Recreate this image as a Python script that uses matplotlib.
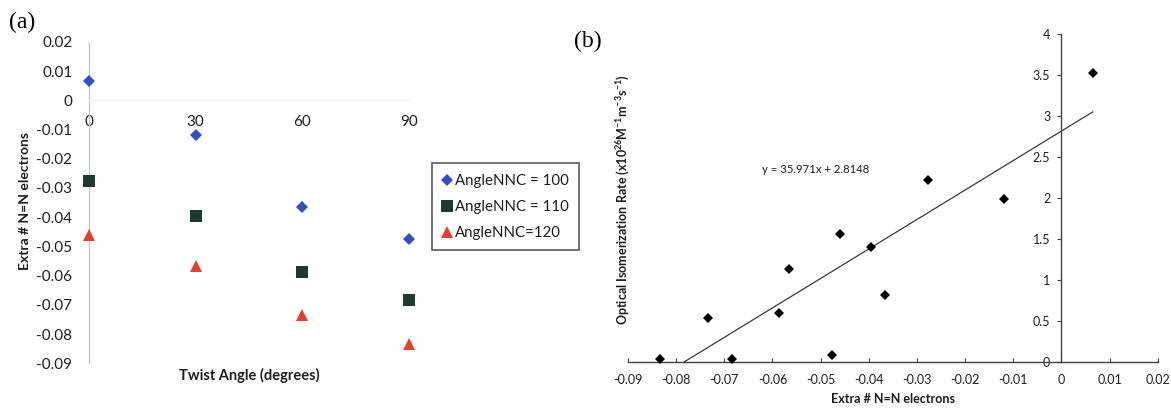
import numpy as np
import matplotlib
matplotlib.use("Agg")
import matplotlib.pyplot as plt
from matplotlib.ticker import FuncFormatter, MultipleLocator

plt.rcParams["font.family"] = ["Lato", "DejaVu Sans"]
plt.rcParams["axes.unicode_minus"] = False
plt.rcParams["mathtext.fontset"] = "custom"
plt.rcParams["mathtext.rm"] = "Lato:bold"
plt.rcParams["mathtext.it"] = "Lato:bold"
plt.rcParams["mathtext.bf"] = "Lato:bold"

# Twist angle scan: extra N=N electron count for three NNC bond angles
twist_angles = [0, 30, 60, 90]
extra_e_nnc100 = [0.0065, -0.0120, -0.0366, -0.0476]
extra_e_nnc110 = [-0.0277, -0.0396, -0.0586, -0.0683]
extra_e_nnc120 = [-0.0460, -0.0566, -0.0734, -0.0833]
series_labels = ["AngleNNC = 100", "AngleNNC = 110", "AngleNNC=120"]

# Optical isomerization rate for the same twelve geometries (x10^26 M^-1 m^-3 s^-1)
rate_nnc100 = [3.53, 1.99, 0.82, 0.08]
rate_nnc110 = [2.22, 1.40, 0.59, 0.03]
rate_nnc120 = [1.56, 1.13, 0.53, 0.03]

# Linear trendline
fit_slope = 35.971
fit_intercept = 2.8148


def num_fmt(v, _pos=None):
    v = round(v, 4)
    if abs(v) < 1e-12:
        return "0"
    return f"{v:g}"


W, H = 1171, 408
fig = plt.figure(figsize=(W / 100, H / 100), dpi=100)

# ---------------- panel (a) ----------------
ax1 = fig.add_axes([89 / W, (H - 363.3) / H, 320 / W, 321.5 / H])
ax1.set_xlim(0, 90)
ax1.set_ylim(-0.09, 0.02)

styles = [
    dict(marker="D", color="#3050c4", ms=6.2),
    dict(marker="s", color="#1d3b2c", ms=8.4),
    dict(marker="^", color="#e6402a", ms=8.6),
]
handles = []
for vals, lab, st in zip([extra_e_nnc100, extra_e_nnc110, extra_e_nnc120], series_labels, styles):
    h, = ax1.plot(twist_angles, vals, linestyle="none", marker=st["marker"],
                  color=st["color"], markersize=st["ms"], markeredgewidth=0,
                  clip_on=False, label=lab, zorder=3)
    handles.append(h)

for s in ["top", "right"]:
    ax1.spines[s].set_visible(False)
ax1.spines["bottom"].set_position(("data", 0))
ax1.spines["bottom"].set_color("#eeeeee")
ax1.spines["bottom"].set_linewidth(0.8)
ax1.spines["left"].set_color("#b4c6de")
ax1.spines["left"].set_linewidth(0.9)

ax1.set_xticks(twist_angles)
ax1.yaxis.set_major_locator(MultipleLocator(0.01))
ax1.yaxis.set_major_formatter(FuncFormatter(num_fmt))
ax1.tick_params(axis="both", length=0, labelsize=11, colors="#1e1e1e")
ax1.tick_params(axis="y", pad=12)
ax1.tick_params(axis="x", pad=10.5)

ax1.set_xlabel("Twist Angle (degrees)", fontsize=10.5, fontweight="bold", color="#1e1e1e")
ax1.xaxis.set_label_coords(0.5, -0.014)
ax1.set_ylabel("Extra # N=N electrons", fontsize=10, fontweight="bold", color="#1e1e1e")
ax1.yaxis.label.set_va("center")
ax1.yaxis.set_label_coords(-0.2, 0.505)

leg = fig.legend(handles=handles, loc="upper left",
                 bbox_to_anchor=(431.7 / W, 1 - 163.3 / H), bbox_transform=fig.transFigure,
                 borderaxespad=0, fontsize=10.8, frameon=True, fancybox=False,
                 handlelength=0.7, handletextpad=0.15, labelspacing=0.8,
                 borderpad=0.7, markerscale=1.0)
leg.get_frame().set_edgecolor("#444444")
leg.get_frame().set_linewidth(1.3)
for t in leg.get_texts():
    t.set_color("#1e1e1e")

fig.text(22 / W, 1 - 22 / H, "(a)", family="Liberation Serif", fontsize=17,
         ha="center", va="center")

# ---------------- panel (b) ----------------
ax2 = fig.add_axes([628 / W, (H - 361.7) / H, 529.7 / W, 327.7 / H])
ax2.set_xlim(-0.09, 0.02)
ax2.set_ylim(0, 4)

bx = np.array(extra_e_nnc100 + extra_e_nnc110 + extra_e_nnc120)
by = np.array(rate_nnc100 + rate_nnc110 + rate_nnc120)

fit_x = np.array([bx.min(), bx.max()])
ax2.plot(fit_x, fit_slope * fit_x + fit_intercept, color="#3a3a3a", lw=0.9, zorder=2)
ax2.plot(bx, by, linestyle="none", marker="D", color="black", markersize=4.8,
         markeredgewidth=0, clip_on=False, zorder=3)

for s in ["top", "right"]:
    ax2.spines[s].set_visible(False)
ax2.spines["left"].set_position(("data", 0))
ax2.spines["left"].set_color("#3c4450")
ax2.spines["left"].set_linewidth(1.0)
ax2.spines["bottom"].set_color("#404040")
ax2.spines["bottom"].set_linewidth(1.0)

ax2.xaxis.set_major_locator(MultipleLocator(0.01))
ax2.yaxis.set_major_locator(MultipleLocator(0.5))
ax2.xaxis.set_major_formatter(FuncFormatter(num_fmt))
ax2.yaxis.set_major_formatter(FuncFormatter(num_fmt))
ax2.tick_params(axis="x", direction="in", length=3, width=0.8, color="#404040",
                labelsize=9, pad=9, labelcolor="#1e1e1e")
ax2.tick_params(axis="y", direction="out", length=3, width=0.8, color="#404040",
                labelsize=9, pad=5, labelcolor="#1e1e1e")

ax2.set_xlabel("Extra # N=N electrons", fontsize=9, fontweight="bold", color="#1e1e1e")
ax2.xaxis.set_label_coords(0.5, -0.095)
ax2.set_ylabel(r"Optical Isomerization Rate (x10$^{26}$M$^{-1}$m$^{-3}$s$^{-1}$)",
               fontsize=9, fontweight="bold", color="#1e1e1e")
ax2.yaxis.label.set_va("center")
ax2.yaxis.set_label_coords(-0.008, 0.495)

ax2.text(-0.051, 2.34, f"y = {fit_slope}x + {fit_intercept}", fontsize=8.2,
         ha="center", va="center", color="#1e1e1e")

fig.text(588 / W, 1 - 41 / H, "(b)", family="Liberation Serif", fontsize=17,
         ha="center", va="center")

fig.savefig("out.png", dpi=100)
